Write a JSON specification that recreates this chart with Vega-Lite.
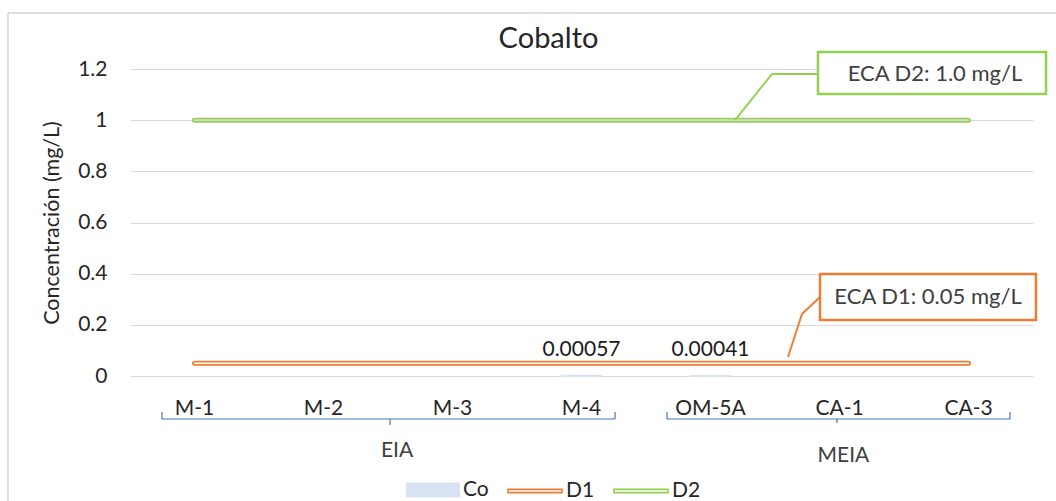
{
  "$schema": "https://vega.github.io/schema/vega-lite/v6.json",
  "width": 903,
  "height": 307,
  "autosize": {"type": "none"},
  "padding": {"left": 130, "top": 69, "right": 23, "bottom": 125},
  "background": "white",
  "config": {"view": {"stroke": null}, "font": "Lato"},
  "title": {"text": "Cobalto", "frame": "group", "anchor": "middle", "dx": -33, "offset": -65, "baseline": "alphabetic", "fontSize": 29, "fontWeight": "normal", "font": "Lato", "color": "#262626"},
  "data": {"values": [
    {"estacion": "M-1", "grupo": "EIA", "Co": null, "D1": 0.05, "D2": 1.0},
    {"estacion": "M-2", "grupo": "EIA", "Co": null, "D1": 0.05, "D2": 1.0},
    {"estacion": "M-3", "grupo": "EIA", "Co": null, "D1": 0.05, "D2": 1.0},
    {"estacion": "M-4", "grupo": "EIA", "Co": 0.00057, "D1": 0.05, "D2": 1.0},
    {"estacion": "OM-5A", "grupo": "MEIA", "Co": 0.00041, "D1": 0.05, "D2": 1.0},
    {"estacion": "CA-1", "grupo": "MEIA", "Co": null, "D1": 0.05, "D2": 1.0},
    {"estacion": "CA-3", "grupo": "MEIA", "Co": null, "D1": 0.05, "D2": 1.0}
  ]},
  "resolve": {"scale": {"x": "independent"}},
  "layer": [
    {
      "encoding": {
        "x": {"field": "estacion", "type": "nominal", "sort": ["M-1", "M-2", "M-3", "M-4", "OM-5A", "CA-1", "CA-3"],
          "scale": {"paddingInner": 0, "paddingOuter": 0},
          "axis": {"title": null, "labelAngle": 0, "domain": false, "ticks": false, "tickSize": 0, "grid": false, "labelFontSize": 21, "labelFont": "Lato", "labelColor": "#262626", "labelPadding": 38, "labelBaseline": "alphabetic"}}
      },
      "layer": [
        {
          "mark": {"type": "bar", "width": 40, "stroke": "#dae3f3", "strokeWidth": 2},
          "encoding": {
            "y": {"field": "Co", "type": "quantitative",
              "scale": {"domain": [0, 1.2], "nice": false},
              "axis": {"title": "Concentración (mg/L)", "values": [0, 0.2, 0.4, 0.6, 0.8, 1, 1.2], "format": "~g", "grid": true, "gridColor": "#d9d9d9", "gridWidth": 1.2, "domain": false, "ticks": false, "tickSize": 0, "labelPadding": 23, "labelFontSize": 21, "labelFont": "Lato", "labelColor": "#262626", "titleFontSize": 21.5, "titleFont": "Lato", "titleFontWeight": "normal", "titleColor": "#262626", "titlePadding": 14}},
            "fill": {"datum": "Co", "type": "nominal",
              "scale": {"domain": ["Co"], "range": ["#dae3f3"]},
              "legend": {"orient": "none", "legendX": 276, "legendY": 394, "direction": "horizontal", "title": null, "labelFontSize": 21, "labelFont": "Lato", "labelColor": "#262626", "symbolType": "M-1,-0.28H1V0.28H-1Z", "symbolSize": 2916, "symbolStrokeWidth": 0, "labelOffset": 3, "padding": 0}}
          }
        },
        {
          "mark": {"type": "line", "strokeWidth": 5, "strokeCap": "round"},
          "encoding": {"y": {"field": "D1", "type": "quantitative"},
            "stroke": {"datum": "D1", "type": "nominal",
              "scale": {"domain": ["D1", "D2"], "range": ["#ed7d31", "#92d050"]},
              "legend": {"orient": "none", "legendX": 377, "legendY": 394, "direction": "horizontal", "title": null, "labelFontSize": 21, "labelFont": "Lato", "labelColor": "#262626", "symbolType": "M-1,-0.06H1V0.06H-1Z", "symbolSize": 2916, "symbolFillColor": "#ffffff", "symbolStrokeWidth": 1.6, "columnPadding": 15, "labelOffset": 3, "padding": 0}}}
        },
        {
          "mark": {"type": "line", "strokeWidth": 1.6, "strokeCap": "round", "color": "#ffffff"},
          "encoding": {"y": {"field": "D1", "type": "quantitative"}}
        },
        {
          "mark": {"type": "line", "strokeWidth": 5, "strokeCap": "round"},
          "encoding": {"y": {"field": "D2", "type": "quantitative"}, "stroke": {"datum": "D2", "type": "nominal"}}
        },
        {
          "mark": {"type": "line", "strokeWidth": 1.6, "strokeCap": "round", "color": "#d9d9d9"},
          "encoding": {"y": {"field": "D2", "type": "quantitative"}}
        },
        {
          "transform": [{"filter": "datum.Co != null"}],
          "mark": {"type": "text", "font": "Lato", "fontSize": 21, "color": "#1a1a1a", "baseline": "alphabetic", "dy": -20},
          "encoding": {"y": {"field": "Co", "type": "quantitative"}, "text": {"field": "Co", "format": ".5f"}}
        }
      ]
    },
    {
      "data": {"values": [{}]},
      "layer": [
        {
          "mark": {"type": "rect", "fillOpacity": 0, "stroke": "#bfbfbf", "strokeWidth": 1},
          "encoding": {
            "x": {"datum": -0.946, "type": "quantitative", "scale": {"domain": [0, 7], "nice": false, "zero": false}, "axis": null},
            "x2": {"datum": 8.5},
            "y": {"datum": 1.419, "type": "quantitative"},
            "y2": {"datum": -0.75}
          }
        },
        {
          "mark": {"type": "rule", "color": "#92d050", "strokeWidth": 2},
          "encoding": {
            "x": {"datum": 4.69, "type": "quantitative", "scale": {"domain": [0, 7], "nice": false, "zero": false}, "axis": null},
            "x2": {"datum": 4.977},
            "y": {"datum": 1.0, "type": "quantitative"},
            "y2": {"datum": 1.1805}
          }
        },
        {
          "mark": {"type": "rule", "color": "#92d050", "strokeWidth": 2},
          "encoding": {
            "x": {"datum": 4.977, "type": "quantitative", "scale": {"domain": [0, 7], "nice": false, "zero": false}, "axis": null},
            "x2": {"datum": 5.333},
            "y": {"datum": 1.1805, "type": "quantitative"}
          }
        },
        {
          "mark": {"type": "rect", "fill": "#ffffff", "stroke": "#92d050", "strokeWidth": 2.5},
          "encoding": {
            "x": {"datum": 5.333, "type": "quantitative", "scale": {"domain": [0, 7], "nice": false, "zero": false}, "axis": null},
            "x2": {"datum": 7.101},
            "y": {"datum": 1.2665, "type": "quantitative"},
            "y2": {"datum": 1.1023}
          }
        },
        {
          "mark": {"type": "text", "text": "ECA D2: 1.0 mg/L", "font": "Lato", "fontSize": 22, "color": "#404040", "align": "center", "baseline": "middle"},
          "encoding": {
            "x": {"datum": 6.24, "type": "quantitative", "scale": {"domain": [0, 7], "nice": false, "zero": false}, "axis": null},
            "y": {"datum": 1.1805, "type": "quantitative"}
          }
        },
        {
          "mark": {"type": "rule", "color": "#ed7d31", "strokeWidth": 2},
          "encoding": {
            "x": {"datum": 5.101, "type": "quantitative", "scale": {"domain": [0, 7], "nice": false, "zero": false}, "axis": null},
            "x2": {"datum": 5.209},
            "y": {"datum": 0.0743, "type": "quantitative"},
            "y2": {"datum": 0.2423}
          }
        },
        {
          "mark": {"type": "rule", "color": "#ed7d31", "strokeWidth": 2},
          "encoding": {
            "x": {"datum": 5.209, "type": "quantitative", "scale": {"domain": [0, 7], "nice": false, "zero": false}, "axis": null},
            "x2": {"datum": 5.349},
            "y": {"datum": 0.2423, "type": "quantitative"},
            "y2": {"datum": 0.3088}
          }
        },
        {
          "mark": {"type": "rect", "fill": "#ffffff", "stroke": "#ed7d31", "strokeWidth": 2.5},
          "encoding": {
            "x": {"datum": 5.349, "type": "quantitative", "scale": {"domain": [0, 7], "nice": false, "zero": false}, "axis": null},
            "x2": {"datum": 7.023},
            "y": {"datum": 0.3987, "type": "quantitative"},
            "y2": {"datum": 0.2189}
          }
        },
        {
          "mark": {"type": "text", "text": "ECA D1: 0.05 mg/L", "font": "Lato", "fontSize": 22, "color": "#404040", "align": "center", "baseline": "middle"},
          "encoding": {
            "x": {"datum": 6.186, "type": "quantitative", "scale": {"domain": [0, 7], "nice": false, "zero": false}, "axis": null},
            "y": {"datum": 0.3088, "type": "quantitative"}
          }
        },
        {
          "mark": {"type": "rule", "color": "#4472c4", "strokeWidth": 1.2},
          "encoding": {
            "x": {"datum": 0.248, "type": "quantitative", "scale": {"domain": [0, 7], "nice": false, "zero": false}, "axis": null},
            "x2": {"datum": 3.76},
            "y": {"datum": -0.1681, "type": "quantitative"}
          }
        },
        {
          "mark": {"type": "rule", "color": "#4472c4", "strokeWidth": 1.2},
          "encoding": {
            "x": {"datum": 0.248, "type": "quantitative", "scale": {"domain": [0, 7], "nice": false, "zero": false}, "axis": null},
            "y": {"datum": -0.1681, "type": "quantitative"},
            "y2": {"datum": -0.1407}
          }
        },
        {
          "mark": {"type": "rule", "color": "#4472c4", "strokeWidth": 1.2},
          "encoding": {
            "x": {"datum": 3.76, "type": "quantitative", "scale": {"domain": [0, 7], "nice": false, "zero": false}, "axis": null},
            "y": {"datum": -0.1681, "type": "quantitative"},
            "y2": {"datum": -0.1407}
          }
        },
        {
          "mark": {"type": "rule", "color": "#4472c4", "strokeWidth": 1.2},
          "encoding": {
            "x": {"datum": 2.016, "type": "quantitative", "scale": {"domain": [0, 7], "nice": false, "zero": false}, "axis": null},
            "y": {"datum": -0.1681, "type": "quantitative"},
            "y2": {"datum": -0.1915}
          }
        },
        {
          "mark": {"type": "rule", "color": "#4472c4", "strokeWidth": 1.2},
          "encoding": {
            "x": {"datum": 4.163, "type": "quantitative", "scale": {"domain": [0, 7], "nice": false, "zero": false}, "axis": null},
            "x2": {"datum": 6.822},
            "y": {"datum": -0.1681, "type": "quantitative"}
          }
        },
        {
          "mark": {"type": "rule", "color": "#4472c4", "strokeWidth": 1.2},
          "encoding": {
            "x": {"datum": 4.163, "type": "quantitative", "scale": {"domain": [0, 7], "nice": false, "zero": false}, "axis": null},
            "y": {"datum": -0.1681, "type": "quantitative"},
            "y2": {"datum": -0.1407}
          }
        },
        {
          "mark": {"type": "rule", "color": "#4472c4", "strokeWidth": 1.2},
          "encoding": {
            "x": {"datum": 6.822, "type": "quantitative", "scale": {"domain": [0, 7], "nice": false, "zero": false}, "axis": null},
            "y": {"datum": -0.1681, "type": "quantitative"},
            "y2": {"datum": -0.1407}
          }
        },
        {
          "mark": {"type": "rule", "color": "#4472c4", "strokeWidth": 1.2},
          "encoding": {
            "x": {"datum": 5.48, "type": "quantitative", "scale": {"domain": [0, 7], "nice": false, "zero": false}, "axis": null},
            "y": {"datum": -0.1681, "type": "quantitative"},
            "y2": {"datum": -0.1837}
          }
        },
        {
          "mark": {"type": "text", "text": "EIA", "font": "Lato", "fontSize": 21, "color": "#404040", "align": "center", "baseline": "middle"},
          "encoding": {
            "x": {"datum": 2.07, "type": "quantitative", "scale": {"domain": [0, 7], "nice": false, "zero": false}, "axis": null},
            "y": {"datum": -0.2932, "type": "quantitative"}
          }
        },
        {
          "mark": {"type": "text", "text": "MEIA", "font": "Lato", "fontSize": 21, "color": "#404040", "align": "center", "baseline": "middle"},
          "encoding": {
            "x": {"datum": 5.53, "type": "quantitative", "scale": {"domain": [0, 7], "nice": false, "zero": false}, "axis": null},
            "y": {"datum": -0.3127, "type": "quantitative"}
          }
        }
      ]
    }
  ]
}
